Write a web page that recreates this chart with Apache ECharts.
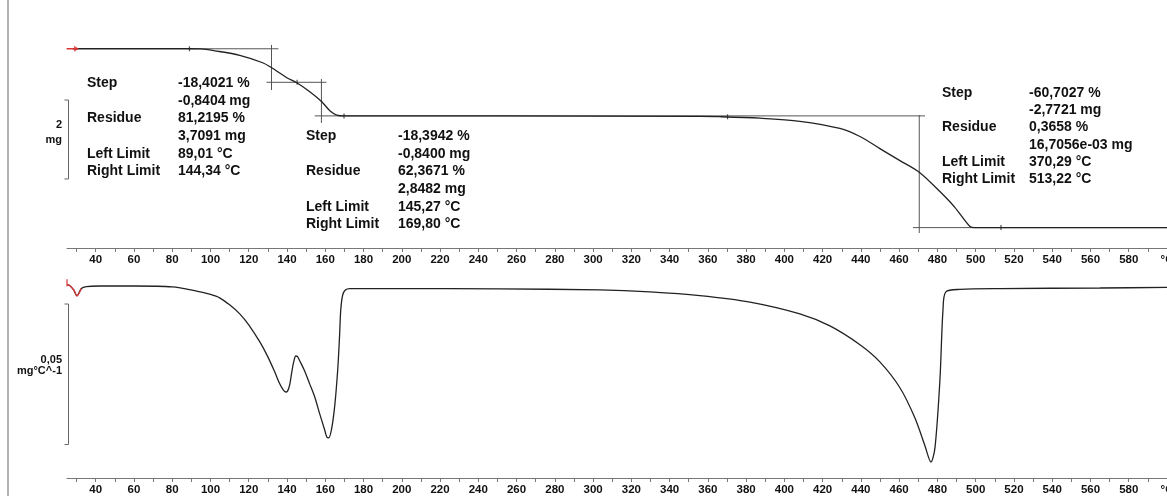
<!DOCTYPE html>
<html>
<head>
<meta charset="utf-8">
<script src="https://cdn.jsdelivr.net/npm/echarts/dist/echarts.min.js"></script>
<style>
html,body{margin:0;padding:0;background:#fff;}
#chart{width:1167px;height:496px;}
</style>
</head>
<body>
<div id="chart"></div>
<script>
// ---------- data ----------
const tickValues = [30,40,50,60,70,80,90,100,110,120,130,140,150,160,170,180,190,200,210,220,230,240,250,260,270,280,290,300,310,320,330,340,350,360,370,380,390,400,410,420,430,440,450,460,470,480,490,500,510,520,530,540,550,560,570,580,590,600];
const labelValues = [40,60,80,100,120,140,160,180,200,220,240,260,280,300,320,340,360,380,400,420,440,460,480,500,520,540,560,580,600];
const unitLabel = '°C';

// TG curve: temperature (°C) and mass (mg)
const tgTemp = [28, 89, 95, 102.2, 115.3, 127.3, 132, 139.9, 145.1, 151.9, 158.2, 162.4, 166, 170.2, 250, 355.8, 366.3, 387.2, 408.1, 429, 439.5, 449.9, 460.4, 470.8, 481.3, 489.2, 497, 499.6, 600];
const tgMass = [4.5495, 4.5495, 4.545, 4.499, 4.385, 4.195, 4.068, 3.815, 3.689, 3.461, 3.207, 2.979, 2.870, 2.8482, 2.8482, 2.835, 2.828, 2.790, 2.712, 2.530, 2.325, 2.020, 1.715, 1.410, 0.930, 0.525, 0.045, 0.0167, 0.0167];

// TG start marker (red)
const tgStartTemp = [24.8, 30];
const tgStartMass = [4.5495, 4.5495];

// DTG curve: temperature (°C) and rate (mg/°C)
const dtgTemp = [25, 26.4, 28.5, 30.2, 32.5, 35.1, 42, 60, 80, 92.7, 100, 104.8, 110, 115.3, 120, 125.8, 130, 133.6, 136, 137.8, 139.3, 140.3, 141.4, 142.5, 143.5, 144.6, 145.5, 146.7, 149, 151.9, 154.5, 157.1, 159.7, 160.8, 161.8, 163.4, 165, 166.5, 167.5, 168.1, 169.1, 170.5, 172.8, 199, 251, 303.5, 329.7, 355.8, 382, 408.1, 423.8, 439.5, 449.9, 460.4, 468.2, 473.5, 476.6, 478.7, 481.3, 482.9, 484.4, 491.8, 512.7, 565, 600];
const dtgRate = [0.0007, 0.0005, -0.0011, -0.0032, -0.0006, 0.0001, 0.0003, 0.0003, 0.0000, -0.0015, -0.0027, -0.0039, -0.0064, -0.0096, -0.0135, -0.0196, -0.0249, -0.0303, -0.0342, -0.0364, -0.0374, -0.0371, -0.0349, -0.0303, -0.0267, -0.0246, -0.0248, -0.0264, -0.0296, -0.0346, -0.0392, -0.0452, -0.0509, -0.0534, -0.0537, -0.0502, -0.0420, -0.0296, -0.0171, -0.0082, -0.0029, -0.0011, -0.0006, -0.0006, -0.0007, -0.0011, -0.0018, -0.0031, -0.0054, -0.0096, -0.0139, -0.0206, -0.0267, -0.0359, -0.0466, -0.0566, -0.0623, -0.0573, -0.0331, -0.0082, -0.0018, -0.0009, -0.0006, -0.0004, -0.0002];
const dtgRedCount = 5; // first points drawn red

// step-evaluation construction lines [T1, m1, T2, m2]
const constructionLines = [
  [89, 4.5495, 135.5, 4.5495],
  [131.9, 4.646, 131.9, 3.505],
  [129.3, 3.70, 160.6, 3.70],
  [158, 3.784, 158, 2.669],
  [154.5, 2.8482, 473.5, 2.8482],
  [470.5, 2.871, 470.5, -0.120],
  [467.2, 0.0167, 600, 0.0167]
];

// evaluation limit markers on TG
const markerTemp = [89.01, 145.27, 169.80, 370.29, 513.22];
const markerMass = [4.5495, 3.70, 2.8482, 2.826, 0.0167];

// step result texts
const step1Names = ['Step', '', 'Residue', '', 'Left Limit', 'Right Limit'];
const step1Values = ['-18,4021 %', '-0,8404 mg', '81,2195 %', '3,7091 mg', '89,01 °C', '144,34 °C'];
const step2Names = ['Step', '', 'Residue', '', 'Left Limit', 'Right Limit'];
const step2Values = ['-18,3942 %', '-0,8400 mg', '62,3671 %', '2,8482 mg', '145,27 °C', '169,80 °C'];
const step3Names = ['Step', '', 'Residue', '', 'Left Limit', 'Right Limit'];
const step3Values = ['-60,7027 %', '-2,7721 mg', '0,3658 %', '16,7056e-03 mg', '370,29 °C', '513,22 °C'];

// scale bars
const tgScaleBar = [3.25, 1.25];        // mg (2 mg)
const dtgScaleBar = [-0.0061, -0.0561]; // mg/°C (0,05)
const tgScaleText = ['2', 'mg'];
const dtgScaleText = ['0,05', 'mg°C^-1'];

// ---------- chart ----------
const FONT = '"Liberation Sans", Arial, sans-serif';
const zip = (a, b) => a.map((v, i) => [v, b[i]]);

function xAxisDef(gi) {
  return {
    gridIndex: gi, type: 'value', min: 25, max: 600,
    axisLine: {show: true, onZero: false, lineStyle: {color: '#777', width: 1}},
    axisTick: {show: true, customValues: tickValues, length: 4, lineStyle: {color: '#777'}},
    axisLabel: {
      customValues: labelValues,
      formatter: v => (v === 600 ? unitLabel : String(v)),
      color: '#111', fontWeight: 'bold', fontSize: 11.5, fontFamily: FONT, margin: 6
    },
    splitLine: {show: false}
  };
}

const series = [];
constructionLines.forEach(s => {
  series.push({
    type: 'line', xAxisIndex: 0, yAxisIndex: 0, symbol: 'none', silent: true,
    lineStyle: {color: '#555', width: 1}, data: [[s[0], s[1]], [s[2], s[3]]], z: 1
  });
});
series.push({
  type: 'line', xAxisIndex: 0, yAxisIndex: 0, symbol: 'none', smooth: 0.3,
  lineStyle: {color: '#222', width: 1.3}, data: zip(tgTemp, tgMass), z: 3
});
series.push({
  type: 'scatter', xAxisIndex: 0, yAxisIndex: 0, symbol: 'rect', symbolSize: [1.2, 5],
  itemStyle: {color: '#222'}, data: zip(markerTemp, markerMass), z: 4
});
series.push({
  type: 'line', xAxisIndex: 0, yAxisIndex: 0, symbol: 'none',
  lineStyle: {color: '#d33', width: 1.3}, data: zip(tgStartTemp, tgStartMass), z: 5
});
series.push({
  type: 'scatter', xAxisIndex: 0, yAxisIndex: 0,
  data: [
    {value: [tgStartTemp[0], tgStartMass[0]], symbol: 'rect', symbolSize: [1.5, 7]},
    {value: [tgStartTemp[1], tgStartMass[1]], symbol: 'triangle', symbolSize: [6, 5], symbolRotate: -90}
  ],
  itemStyle: {color: '#d33'}, z: 5
});
series.push({
  type: 'line', xAxisIndex: 1, yAxisIndex: 1, symbol: 'none', smooth: 0.3,
  lineStyle: {color: '#222', width: 1.3}, data: zip(dtgTemp, dtgRate), z: 3
});
series.push({
  type: 'line', xAxisIndex: 1, yAxisIndex: 1, symbol: 'none', smooth: 0.3,
  lineStyle: {color: '#d33', width: 1.3}, data: zip(dtgTemp, dtgRate).slice(0, dtgRedCount), z: 4
});
series.push({
  type: 'scatter', xAxisIndex: 1, yAxisIndex: 1, symbol: 'rect', symbolSize: [1.5, 7],
  itemStyle: {color: '#d33'}, data: [[dtgTemp[0], dtgRate[0] + 0.0008]], z: 5
});

const chart = echarts.init(document.getElementById('chart'), null, {renderer: 'canvas'});
chart.setOption({
  animation: false,
  backgroundColor: '#fff',
  grid: [
    {left: 67, right: 0, top: 31, height: 217, containLabel: false, outerBoundsMode: 'none'},
    {left: 67, right: 0, top: 270, height: 208, containLabel: false, outerBoundsMode: 'none'}
  ],
  xAxis: [xAxisDef(0), xAxisDef(1)],
  yAxis: [
    {gridIndex: 0, type: 'value', min: -0.5, max: 5, show: false},
    {gridIndex: 1, type: 'value', min: -0.068, max: 0.006, show: false}
  ],
  series: series
});

// ---------- decorations ----------
const g = [];
g.push({type: 'line', shape: {x1: 8, y1: 0, x2: 8, y2: 496}, style: {stroke: '#999', lineWidth: 1.5}, silent: true});

function textBlock(names, values, x1, x2, y0, dy) {
  names.forEach((n, i) => {
    if (n) g.push({type: 'text', x: x1, y: y0 + i * dy, style: {text: n, font: 'bold 14px ' + FONT, fill: '#111', textVerticalAlign: 'middle'}});
    g.push({type: 'text', x: x2, y: y0 + i * dy, style: {text: values[i], font: 'bold 14px ' + FONT, fill: '#111', textVerticalAlign: 'middle'}});
  });
}
textBlock(step1Names, step1Values, 87, 178, 83, 17.7);
textBlock(step2Names, step2Values, 306, 398, 136, 17.7);
textBlock(step3Names, step3Values, 942, 1029, 93, 17.3);

function scaleBar(gridIdx, vals, texts, ty1, ty2) {
  const finder = {xAxisIndex: gridIdx, yAxisIndex: gridIdx};
  const pTop = chart.convertToPixel(finder, [25, vals[0]]);
  const pBot = chart.convertToPixel(finder, [25, vals[1]]);
  const x = 68.5;
  g.push({type: 'polyline', shape: {points: [[x - 4, pTop[1]], [x, pTop[1]], [x, pBot[1]], [x - 4, pBot[1]]]}, style: {stroke: '#666', lineWidth: 1, fill: null}, silent: true});
  g.push({type: 'text', x: 62, y: ty1, style: {text: texts[0], font: 'bold 11px ' + FONT, fill: '#111', textAlign: 'right', textVerticalAlign: 'middle'}});
  g.push({type: 'text', x: 62, y: ty2, style: {text: texts[1], font: 'bold 11px ' + FONT, fill: '#111', textAlign: 'right', textVerticalAlign: 'middle'}});
}
scaleBar(0, tgScaleBar, tgScaleText, 125, 140);
scaleBar(1, dtgScaleBar, dtgScaleText, 360, 371);

chart.setOption({graphic: {elements: g}});
</script>
</body>
</html>
